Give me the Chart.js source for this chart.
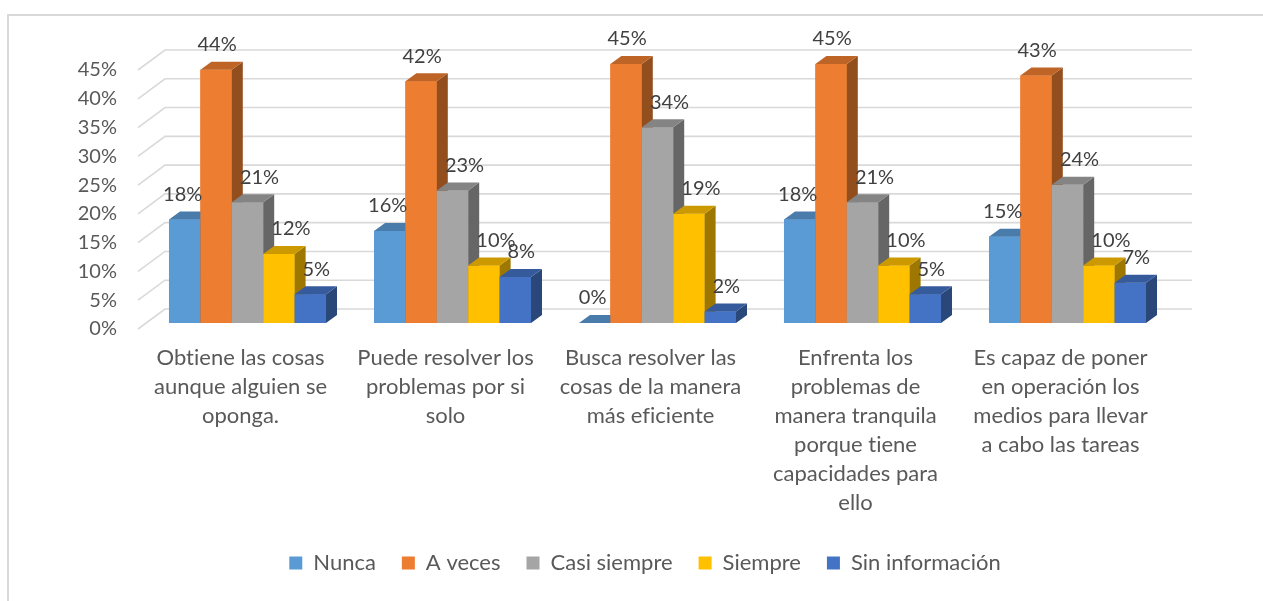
<!DOCTYPE html>
<html>
<head>
<meta charset="utf-8">
<script src="https://cdn.jsdelivr.net/npm/chart.js@4.4.1/dist/chart.umd.min.js"></script>
<style>
html, body { margin: 0; padding: 0; background: #fff; overflow: hidden; }
#wrap { position: relative; width: 1263px; height: 601px; overflow: hidden; }
#chart { position: absolute; left: 0; top: 0; }
</style>
</head>
<body>
<div id="wrap"><canvas id="chart" width="1263" height="650"></canvas></div>
<script>
// Categories (multi-line labels as in the original)
var categories = [
	["Obtiene las cosas", "aunque alguien se", "oponga."],
	["Puede resolver los", "problemas por si", "solo"],
	["Busca resolver las", "cosas de la manera", "más eficiente"],
	["Enfrenta los", "problemas de", "manera tranquila", "porque tiene", "capacidades para", "ello"],
	["Es capaz de poner", "en operación los", "medios para llevar", "a cabo las tareas"]
];

var seriesNames = ["Nunca", "A veces", "Casi siempre", "Siempre", "Sin información"];

// Values in percent
var nunca = [18, 16, 0, 18, 15];
var aVeces = [44, 42, 45, 45, 43];
var casiSiempre = [21, 23, 34, 21, 24];
var siempre = [12, 10, 19, 10, 10];
var sinInfo = [5, 8, 2, 5, 7];

var yTicks = [0, 5, 10, 15, 20, 25, 30, 35, 40, 45];

var colors = ["#5B9BD5", "#ED7D31", "#A5A5A5", "#FFC000", "#4472C4"];
var labelShift = [-2, 1, 12, 12, 6];

var FONT = "Lato, 'Open Sans', sans-serif";

// Darken a hex colour
function shade(hex, f) {
	var r = parseInt(hex.substr(1, 2), 16);
	var g = parseInt(hex.substr(3, 2), 16);
	var b = parseInt(hex.substr(5, 2), 16);
	return "rgb(" + Math.round(r * f) + "," + Math.round(g * f) + "," + Math.round(b * f) + ")";
}

var DX = 11, DY = 8;

var excel3d = {
	id: "excel3d",
	afterLayout: function (chart) {
		// legend sits a bit right of centre in the original
		chart.legend.left += 60;
		chart.legend.right += 60;
	},
	beforeDraw: function (chart) {
		var ctx = chart.ctx;
		ctx.textRendering = "optimizeSpeed";
		ctx.save();
		ctx.strokeStyle = "#d9d9d9";
		ctx.lineWidth = 2;
		ctx.beginPath();
		ctx.moveTo(8, 660);
		ctx.lineTo(8, 15);
		ctx.lineTo(1263, 15);
		ctx.stroke();
		ctx.restore();
	},
	beforeDatasetsDraw: function (chart) {
		var ctx = chart.ctx;
		var area = chart.chartArea;
		var ys = chart.scales.y;
		ctx.save();
		ctx.strokeStyle = "#d9d9d9";
		ctx.lineWidth = 1.6;
		yTicks.forEach(function (v) {
			var y = ys.getPixelForValue(v);
			ctx.beginPath();
			ctx.moveTo(area.left - 7, y + 6);
			ctx.lineTo(area.left + 20, y - 14);
			ctx.lineTo(area.right + 22, y - 14);
			ctx.stroke();
		});
		ctx.restore();
	},
	afterDatasetsDraw: function (chart) {
		var ctx = chart.ctx;
		var n = chart.data.labels.length;
		ctx.save();
		for (var j = 0; j < n; j++) {
			for (var i = 0; i < chart.data.datasets.length; i++) {
				var el = chart.getDatasetMeta(i).data[j];
				var left = el.x - el.width / 2;
				var right = el.x + el.width / 2;
				var top = el.y, base = el.base;
				var c = colors[i];
				// front
				ctx.fillStyle = c;
				ctx.fillRect(left, top, el.width, base - top);
				// side
				ctx.fillStyle = shade(c, 0.62);
				ctx.beginPath();
				ctx.moveTo(right, top);
				ctx.lineTo(right + DX, top - DY);
				ctx.lineTo(right + DX, base - DY);
				ctx.lineTo(right, base);
				ctx.closePath();
				ctx.fill();
				// top
				ctx.fillStyle = shade(c, 0.8);
				ctx.beginPath();
				ctx.moveTo(left, top);
				ctx.lineTo(left + DX, top - DY);
				ctx.lineTo(right + DX, top - DY);
				ctx.lineTo(right, top);
				ctx.closePath();
				ctx.fill();
			}
		}
		// data labels
		ctx.font = "20px " + FONT;
		ctx.fillStyle = "#404040";
		ctx.textAlign = "center";
		ctx.textBaseline = "middle";
		chart.data.datasets.forEach(function (ds, i) {
			chart.getDatasetMeta(i).data.forEach(function (el, j) {
				ctx.fillText(ds.data[j] + "%", el.x + labelShift[i], el.y - 25);
			});
		});
		ctx.restore();
	}
};

var allSeries = [nunca, aVeces, casiSiempre, siempre, sinInfo];

var ctx = document.getElementById("chart");
var config = {
	type: "bar",
	data: {
		labels: categories,
		datasets: allSeries.map(function (vals, i) {
			return {
				label: seriesNames[i],
				data: vals,
				backgroundColor: colors[i],
				borderWidth: 0,
				categoryPercentage: 0.766,
				barPercentage: 1.0
			};
		})
	},
	plugins: [excel3d],
	options: {
		responsive: false,
		animation: false,
		layout: {
			padding: { left: 0, right: 93, top: 64, bottom: 66 }
		},
		plugins: {
			legend: {
				display: true,
				position: "bottom",
				labels: {
					boxWidth: 13,
					boxHeight: 13,
					padding: 26,
					color: "#595959",
					font: { family: FONT, size: 22 }
				}
			},
			tooltip: { enabled: false }
		},
		scales: {
			x: {
				grid: { display: false, drawTicks: false },
				border: { display: false },
				ticks: {
					autoSkip: false,
					maxRotation: 0,
					minRotation: 0,
					padding: 20,
					labelOffset: -7,
					color: "#595959",
					font: { family: FONT, size: 22, lineHeight: 1.32 }
				},
				afterFit: function (scale) {
					scale.height = 203;
				}
			},
			y: {
				min: 0,
				max: 45,
				grid: { display: false, drawTicks: false },
				border: { display: false },
				ticks: {
					stepSize: 5,
					padding: 28,
					labelOffset: 6,
					color: "#595959",
					font: { family: FONT, size: 20 },
					callback: function (v) { return v + "%"; }
				},
				afterFit: function (scale) {
					scale.width = 145;
				}
			}
		}
	}
};

window.resultChart = new Chart(ctx, config);
</script>
</body>
</html>
